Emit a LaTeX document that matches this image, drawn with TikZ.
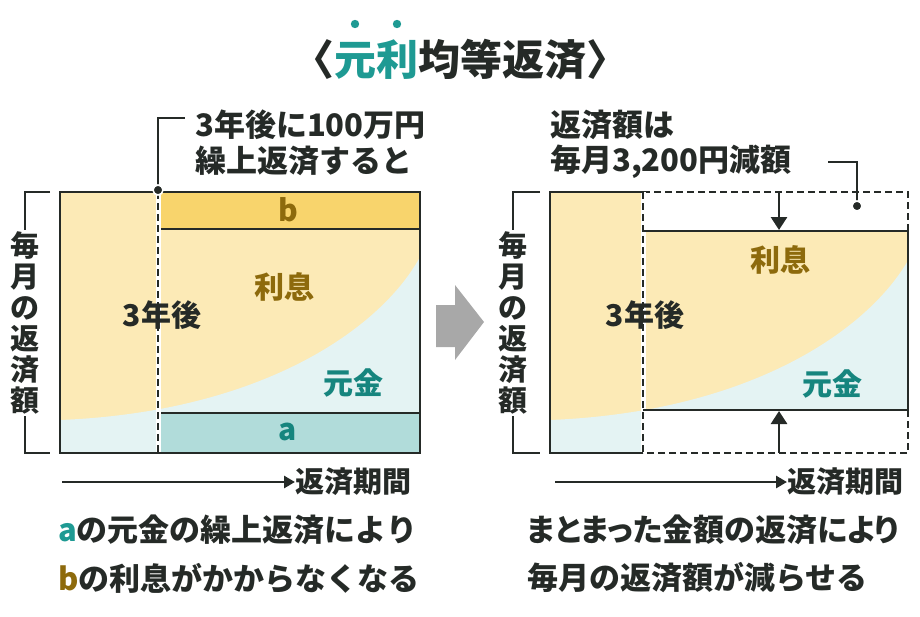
\documentclass[tikz,border=0pt]{standalone}
\usepackage{fontspec}
\setmainfont{Noto Sans CJK JP}
\usetikzlibrary{arrows.meta}
\definecolor{KinriInk}{HTML}{252A27}
\definecolor{KinriTeal}{HTML}{1E9A93}
\definecolor{KinriDeep}{HTML}{16857E}
\definecolor{KinriGold}{HTML}{8D6A0C}
\definecolor{KinriCream}{HTML}{FCEAB6}
\definecolor{KinriYellow}{HTML}{F8D46C}
\definecolor{KinriMist}{HTML}{E4F3F3}
\definecolor{KinriAqua}{HTML}{B1DCDA}
\definecolor{KinriGray}{HTML}{A8A8A8}

\begin{document}
\begin{tikzpicture}[x=1pt, y=-1pt,
  every node/.style={font=\bfseries\fontsize{31}{33}\selectfont, inner sep=0pt, text=KinriInk},
  frame/.style={draw=KinriInk, line width=2.3pt},
  cut/.style={draw=KinriInk, line width=2.3pt, dash pattern=on 7pt off 4pt},
  leader/.style={draw=KinriInk, line width=1.8pt},
  axis/.style={-{Triangle[length=11pt,width=12pt]}, draw=KinriInk, line width=2.8pt},
  push/.style={-{Triangle[length=13pt,width=16pt]}, draw=KinriInk, line width=2.8pt},
  tag/.style={font=\bfseries\fontsize{30}{32}\selectfont},
  note/.style={anchor=west},
  vtext/.style={fill=white, inner sep=2pt, align=center, font=\bfseries\fontsize{29}{31}\selectfont},
  bullet/.style={circle, fill=KinriInk, draw=white, line width=1.6pt, minimum size=10pt},
]
\useasboundingbox (0,0) rectangle (920,616);

% title
\node (title) at (460,60) {\fontsize{42}{46}\selectfont 〈\textcolor{KinriTeal}{元利}均等返済〉};
\fill[KinriTeal] (355,24) circle (4.2) (397,24) circle (4.2);

% left panel
\fill[KinriCream] (60,192) rectangle (420,453);
\fill[KinriMist] (60,420) .. controls (260,412) and (380,330) .. (420,257) -- (420,453) -- (60,453) -- cycle;
\fill[KinriYellow] (158,192) rectangle (420,229);
\fill[KinriAqua] (158,413) rectangle (420,453);
\draw[frame] (158,229) -- (420,229) (158,413) -- (420,413);
\draw[white, line width=5pt] (158,192) -- (158,453);
\draw[cut] (158,192) -- (158,453);
\draw[frame] (60,192) rectangle (420,453);
\node[tag, text=KinriGold] (bL) at (288,210) {b};
\node[tag, text=KinriDeep] (aL) at (288,432) {a};
\node[tag, text=KinriGold] (riL) at (284,287) {利息};
\node[tag, text=KinriDeep] (ganL) at (353,383) {元金};
\node[tag] (yrL) at (162,315) {3年後};

% left bracket and axis
\draw[leader] (50,192) -- (25,192) -- (25,453) -- (50,453);
\node[vtext] (vL) at (25,323) {毎\\月\\の\\返\\済\\額};
\node[note, font=\bfseries\fontsize{29}{31}\selectfont] (axLlbl) at (295,482) {返済期間};
\coordinate (axL0) at (62,482);
\draw[axis] (axL0) -- (axLlbl.west);

% left note
\node[note] (noteL1) at (195,125) {3年後に100万円};
\node[note] (noteL2) at (195,161) {繰上返済すると};
\coordinate (ldLend) at (185,118);
\draw[leader] (158,190) |- (ldLend);
\node[bullet] (ldL) at (158,190) {};

% arrow between panels
\fill[KinriGray] (436,305) -- (455,305) -- (455,285) -- (484,322) -- (455,360) -- (455,347) -- (436,347) -- cycle;

% right panel
\begin{scope}
  \clip (550,192) rectangle (643,453) (643,231) rectangle (908,410);
  \fill[KinriCream] (550,192) rectangle (908,453);
  \fill[KinriMist, xshift=490] (60,420) .. controls (260,412) and (380,330) .. (420,257) -- (420,453) -- (60,453) -- cycle;
\end{scope}
\draw[cut] (643,192) -- (908,192) -- (908,231) (908,410) -- (908,453) -- (643,453);
\draw[white, line width=5pt] (643,192) -- (643,453);
\draw[cut] (643,192) -- (643,453);
\draw[frame] (643,192) -- (550,192) -- (550,453) -- (643,453);
\draw[frame] (643,231) -- (908,231) -- (908,410) -- (643,410);
\node[tag, text=KinriGold] (riR) at (780,260) {利息};
\node[tag, text=KinriDeep] (ganR) at (832,384) {元金};
\node[tag] (yrR) at (645,315) {3年後};
\coordinate (dnTop) at (779,192);
\coordinate (dnEnd) at (779,230);
\coordinate (upBot) at (779,453);
\coordinate (upEnd) at (779,411);
\draw[push] (dnTop) -- (dnEnd);
\draw[push] (upBot) -- (upEnd);

% right bracket and axis
\draw[leader] (540,192) -- (513,192) -- (513,453) -- (540,453);
\node[vtext] (vR) at (513,323) {毎\\月\\の\\返\\済\\額};
\node[note, font=\bfseries\fontsize{29}{31}\selectfont] (axRlbl) at (787,482) {返済期間};
\coordinate (axR0) at (555,482);
\draw[axis] (axR0) -- (axRlbl.west);

% right note
\node[note] (noteR1) at (550,125) {返済額は};
\node[note] (noteR2) at (550,162) {毎月3,200円減額};
\coordinate (ldRend) at (828,162);
\draw[leader] (ldRend) -| (857,206);
\node[bullet] (ldR) at (857,206) {};

% bottom captions
\node[note] (capL1) at (58,530) {\textcolor{KinriTeal}{a}の元金の繰上返済により};
\node[note] (capL2) at (58,578) {\textcolor{KinriGold}{b}の利息がかからなくなる};
\node[note] (capR1) at (527,530) {\addfontfeature{RawFeature=+palt}まとまった金額の返済により};
\node[note] (capR2) at (527,578) {毎月の返済額が減らせる};
\end{tikzpicture}
\end{document}
